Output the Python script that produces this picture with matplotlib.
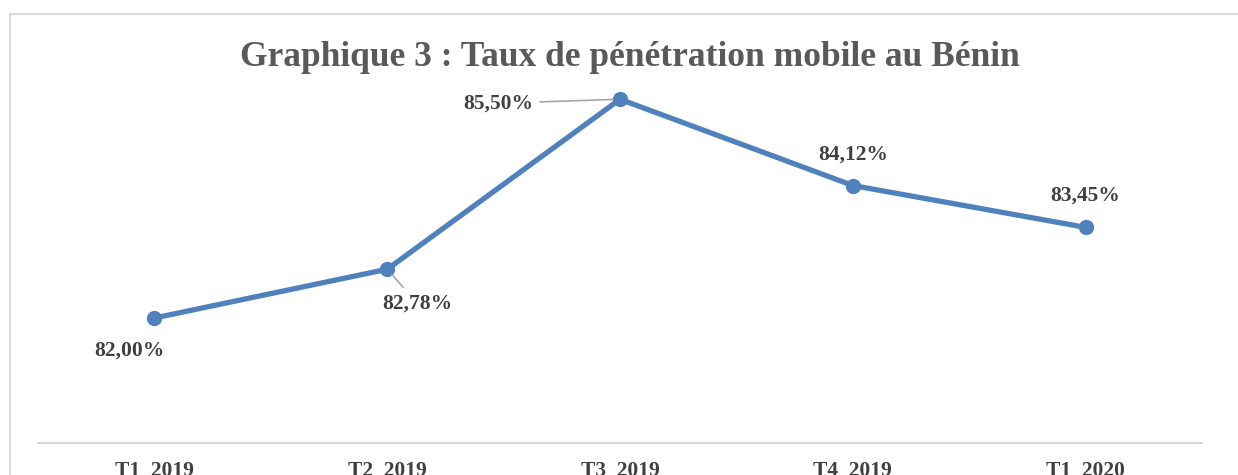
import matplotlib.pyplot as plt
from matplotlib.patches import Rectangle

# data
quarters = ['T1  2019', 'T2  2019', 'T3  2019', 'T4  2019', 'T1  2020']
rates = [82.00, 82.78, 85.50, 84.12, 83.45]
labels = ['82,00%', '82,78%', '85,50%', '84,12%', '83,45%']
# label offsets (pixels) and whether a leader line is drawn
offsets = [(-25, -33), (30, -34), (-122, -4), (0, 31), (0, 32)]
leaders = [False, True, True, False, False]

plt.rcParams['font.family'] = ['Liberation Serif', 'DejaVu Serif']

fig = plt.figure(figsize=(12.38, 4.75), dpi=100)
W, H = 1238, 475
ax = fig.add_axes([38 / W, (H - 443) / H, 1164 / W, 375 / H])

# outer light border (cut off on the right/bottom like the reference)
fig.patches.append(Rectangle((10 / W, -0.1), 1.2, (H - 14) / H + 0.1,
                             transform=fig.transFigure, fill=False,
                             edgecolor='#d9d9d9', linewidth=1.5))

x = list(range(len(quarters)))
ax.plot(x, rates, color='#4f81bd', linewidth=3.8, marker='o', markersize=10,
        solid_capstyle='round', zorder=3)

for xi, yi, lab, off, lead in zip(x, rates, labels, offsets, leaders):
    arrow = None
    if lead:
        arrow = dict(arrowstyle='-', color='#a6a6a6', linewidth=1.2,
                     shrinkA=3, shrinkB=5)
    ax.annotate(lab, (xi, yi), xytext=off, textcoords='offset pixels',
                ha='center', va='center', fontsize=15.5, fontweight='bold',
                color='#404040', arrowprops=arrow)

ax.set_xlim(-0.5, 4.5)
ax.set_ylim(80, 86)
ax.set_xticks(x)
ax.set_xticklabels(quarters, fontsize=15.5, fontweight='bold', color='#404040')
ax.tick_params(axis='x', length=0, pad=13)
ax.set_yticks([])
for s in ['top', 'right', 'left']:
    ax.spines[s].set_visible(False)
ax.spines['bottom'].set_color('#d9d9d9')
ax.spines['bottom'].set_linewidth(1.5)

fig.text(630 / W, (H - 57) / H, 'Graphique 3 : Taux de pénétration mobile au Bénin',
         ha='center', va='center', fontsize=25.5, fontweight='bold', color='#595959')

fig.savefig('out.png', dpi=100)
